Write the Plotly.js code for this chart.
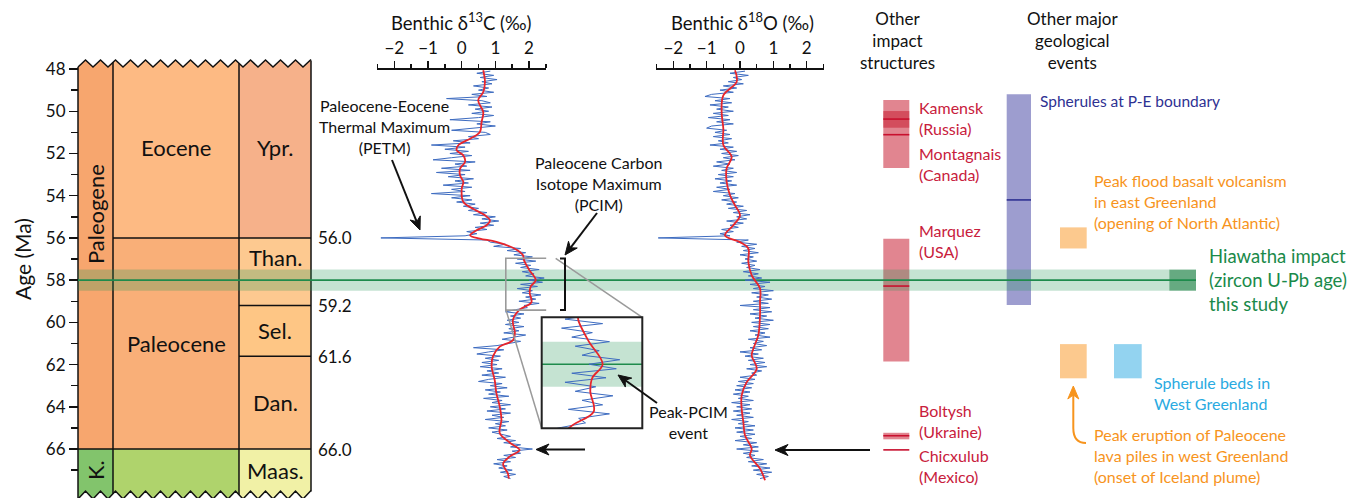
<!DOCTYPE html>
<html><head><meta charset="utf-8">
<script src="https://cdn.plot.ly/plotly-3.0.1.min.js"></script>
<style>html,body{margin:0;padding:0;background:#fff}#chart{width:1352px;height:498px}</style>
</head><body><div id="chart"></div>
<script>
// ---------------- DATA ----------------
const blueAges = [
48.1,48.2,48.3,48.4,48.5,48.6,48.7,48.8,48.9,49.0,
49.1,49.2,49.3,49.4,49.5,49.6,49.7,49.8,49.9,50.0,
50.1,50.2,50.3,50.4,50.5,50.6,50.7,50.8,50.9,51.0,
51.1,51.2,51.3,51.4,51.5,51.6,51.7,51.8,51.9,52.0,
52.1,52.2,52.3,52.4,52.5,52.6,52.7,52.8,52.9,53.0,
53.1,53.2,53.3,53.4,53.5,53.6,53.7,53.8,53.9,54.0,
54.1,54.2,54.3,54.4,54.5,54.6,54.7,54.8,54.9,55.0,
55.1,55.2,55.3,55.4,55.5,55.6,55.7,55.8,55.9,56.0,
56.1,56.2,56.3,56.4,56.5,56.6,56.7,56.8,56.9,57.0,
57.1,57.2,57.3,57.4,57.5,57.6,57.7,57.8,57.9,58.0,
58.1,58.2,58.3,58.4,58.5,58.6,58.7,58.8,58.9,59.0,
59.1,59.2,59.3,59.4,59.5,59.6,59.7,59.8,59.9,60.0,
60.1,60.2,60.3,60.4,60.5,60.6,60.7,60.8,60.9,61.0,
61.1,61.2,61.3,61.4,61.5,61.6,61.7,61.8,61.9,62.0,
62.1,62.2,62.3,62.4,62.5,62.6,62.7,62.8,62.9,63.0,
63.1,63.2,63.3,63.4,63.5,63.6,63.7,63.8,63.9,64.0,
64.1,64.2,64.3,64.4,64.5,64.6,64.7,64.8,64.9,65.0,
65.1,65.2,65.3,65.4,65.5,65.6,65.7,65.8,65.9,66.0,
66.1,66.2,66.3,66.4,66.5,66.6,66.7,66.8,66.9,67.0,
67.1,67.2,67.3,67.4];

const d13cBlue = [
0.85,0.45,0.95,0.55,1.05,0.6,0.9,0.35,0.8,0.5,
0.95,0.3,0.75,-0.45,0.6,0.85,0.2,0.9,0.4,0.8,
0.3,0.95,0.5,-0.35,0.85,0.45,1.0,0.3,-0.3,0.7,
0.85,0.2,0.5,-0.25,0.25,-0.9,0.1,-0.5,0.2,-0.35,
0.3,-0.3,-0.85,0.4,-0.2,0.15,-0.6,0.25,-0.75,0.1,
-0.4,0.35,-0.2,0.2,-0.55,0.3,-0.3,0.1,-0.9,0.25,
-0.3,0.3,-0.15,0.4,0.05,0.5,0.2,0.75,0.35,1.0,
0.6,1.1,0.55,0.95,0.4,0.75,0.15,0.45,0.1,-2.4,
0.75,0.85,1.3,0.95,1.75,1.35,1.9,1.55,2.1,1.65,
2.2,1.6,2.05,1.75,2.3,1.8,2.15,1.9,2.45,2.0,
2.4,1.75,2.25,1.65,2.1,1.8,2.35,1.9,2.2,1.7,
2.3,1.85,1.95,1.6,1.3,1.85,1.45,1.75,1.35,1.7,
1.3,1.85,1.4,1.7,1.25,1.9,1.5,1.2,1.75,1.4,
1.05,0.35,1.25,0.8,0.45,1.15,0.7,1.1,0.6,1.05,
0.55,1.2,0.75,1.1,0.6,1.3,0.8,0.5,1.2,0.85,
1.35,0.7,1.15,0.8,1.4,0.65,1.2,0.9,1.45,0.85,
1.3,0.75,1.45,0.9,1.25,0.7,1.4,1.0,1.3,0.8,
1.35,0.9,1.2,1.45,1.05,1.6,1.25,1.75,1.45,2.1,
1.5,1.75,1.25,1.6,1.05,1.45,0.95,1.35,1.1,1.5,
1.15,1.6,1.25,1.45];

const d18oBlue = [
0.15,-0.3,0.25,-0.2,0.05,-0.35,0.1,-0.5,-0.1,-0.6,
-0.2,-0.85,-1.05,-0.3,-0.75,-0.25,-0.9,-0.35,-0.7,-0.2,
-0.8,-0.35,-0.95,-0.3,-0.7,-0.2,-0.85,-1.0,-0.4,-0.75,
-0.3,-0.8,-0.25,-0.65,-0.35,-0.9,-0.2,-0.6,-0.1,-0.55,
-0.05,-0.5,-0.15,-0.7,-0.3,-0.8,-0.2,-0.55,-0.1,-0.65,
-0.2,-0.75,-0.25,-0.6,-0.1,-0.7,-0.3,-0.8,-0.15,-0.5,
-0.05,-0.55,-0.1,-0.4,0.1,-0.35,0.2,-0.2,0.3,-0.1,
0.2,-0.4,0.1,-0.3,-0.05,-0.55,-0.2,-0.6,-0.3,-2.45,
0.25,-0.1,0.5,0.05,0.45,0.1,0.55,0.0,0.4,0.15,
0.5,0.05,0.45,0.2,0.6,0.1,0.55,0.25,0.65,0.15,
0.9,0.3,0.75,0.4,1.0,0.35,0.85,0.5,0.95,0.4,
0.85,0.0,0.9,0.4,0.95,0.3,0.8,0.45,1.0,0.35,
0.9,0.4,0.85,0.3,0.75,0.45,0.9,0.25,0.7,0.4,
0.8,0.3,0.65,0.0,0.55,0.15,0.7,0.25,0.75,0.3,
0.8,0.2,0.65,0.35,0.5,0.0,0.45,-0.05,0.4,-0.1,
0.35,-0.15,0.3,-0.2,0.25,-0.05,0.4,-0.25,0.3,-0.1,
0.35,-0.2,0.3,-0.1,0.4,-0.25,0.25,-0.05,0.45,-0.15,
0.4,-0.1,0.45,0.0,0.35,-0.15,0.5,0.1,0.55,-0.1,
0.55,0.1,0.45,0.2,0.7,0.25,0.8,0.35,0.9,0.4,
0.95,0.5,0.85,0.6];

const d13cRedAge = [48.06,48.61,49.09,49.48,50.04,50.51,50.98,51.3,51.61,51.85,
52.09,52.4,52.72,53.03,53.35,53.67,54.3,54.62,54.93,55.17,
55.4,55.64,55.88,56.03,56.19,56.51,56.82,57.05,57.5,58.0,
58.3,58.6,59.05,59.4,59.9,60.5,60.85,61.15,61.6,62.1,
62.73,63.35,63.99,64.62,65.24,65.7,66.05,66.35,66.7,67.15,67.4];
const d13cRed = [0.64,0.69,0.64,0.49,0.64,0.59,0.54,0.25,-0.1,-0.15,
0.05,0.1,-0.05,-0.05,0.05,0.0,0.05,0.34,0.69,0.84,
0.74,0.44,0.25,0.54,1.03,1.58,1.82,1.85,2.0,2.2,
2.05,2.02,2.07,1.72,1.52,1.58,1.52,1.13,0.93,0.89,
0.98,1.03,1.13,1.18,1.13,1.43,1.72,1.43,1.23,1.37,1.4];

const d18oRedAge = [48.06,48.6,49.25,50.04,50.83,51.6,52.17,52.7,53.35,53.98,
54.46,54.93,55.4,55.88,56.2,56.5,57.14,57.77,58.4,59.03,
59.67,60.6,61.25,61.57,62.2,62.83,63.46,64.1,64.72,65.35,
65.99,66.3,66.93,67.48];
const d18oRed = [-0.15,-0.1,-0.5,-0.55,-0.5,-0.5,-0.25,-0.4,-0.4,-0.3,
-0.15,0.0,-0.2,-0.45,0.0,0.25,0.25,0.35,0.6,0.6,
0.6,0.55,0.4,0.35,0.5,0.2,0.05,0.05,0.1,0.15,
0.35,0.3,0.6,0.75];

// Geological time scale
const periodNames = ['Paleogene','K.'];
const periodTop = [47.3, 66.0], periodBot = [66.0, 68.6];
const epochNames = ['Eocene','Paleocene',''];
const epochTop = [47.3, 56.0, 66.0], epochBot = [56.0, 66.0, 68.6];
const stageNames = ['Ypr.','Than.','Sel.','Dan.','Maas.'];
const stageTop = [47.3, 56.0, 59.2, 61.6, 66.0], stageBot = [56.0, 59.2, 61.6, 66.0, 68.6];
const boundaryLabels = ['56.0','59.2','61.6','66.0'];
const boundaryAges = [56.0, 59.2, 61.6, 66.0];

// Other impact structures
const impactNames = ['Kamensk','Montagnais','Marquez','Boltysh','Chicxulub'];
const impactLo = [49.99, 49.47, 56.04, 65.23, null];
const impactHi = [50.78, 52.69, 61.85, 65.54, null];
const impactAge = [50.37, 51.11, 58.28, 65.37, 66.04];

// Other geological events
const spherulePE = [49.2, 59.18], spherulePEage = 54.2;
const floodBasalt = [55.5, 56.5];
const lavaPiles = [61.03, 62.65];
const spheruleBeds = [61.03, 62.65];
const hiawatha = [57.5, 58.5], hiawathaAge = 58.0;

// Inset (zoom window on the δ13C record)
const insetAge = [56.96, 59.42], insetD13C = [1.31, 2.78];

// ---------------- LAYOUT HELPERS ----------------
const W = 1352, H = 498;
const Y0 = 44.73, PPM = 21.111;
const A = py => Y0 + py / PPM;          // pixel row -> age
const P = px => px / W, Q = py => 1 - py / H;
const FONT = 'Lato, "Open Sans", sans-serif';
const BLUE = 'rgb(62,108,192)', RED = '#E8252B';
const CRIM = '#C8203C', NAVY = '#2E3192', ORANGE = '#F7941D', LBLUE = '#29AAE1', GREEN = '#1A8A4A';
const BAND = 'rgba(40,150,90,0.27)';

const shapes = [], ann = [];
function rect(x0,x1,y0,y1,fill,layer){shapes.push({type:'rect',xref:'x',yref:'y',x0,x1,y0,y1,fillcolor:fill,line:{width:0},layer:layer||'below'});}
function hline(x0,x1,y,color,w,layer){shapes.push({type:'line',xref:'x',yref:'y',x0,x1,y0:y,y1:y,line:{color,width:w},layer:layer||'below'});}
function txt(x,y,text,size,color,anchor,angle){ann.push({xref:'paper',yref:'paper',x:P(x),y:Q(y),text,showarrow:false,xanchor:anchor||'center',yanchor:'middle',align:anchor||'center',textangle:angle||0,font:{family:FONT,size,color:color||'#111'}});}
// arrow drawn as shapes: shaft + notched head (pixel geometry -> paper)
function arrow(hx,hy,tx,ty,color,noShaft){
  color = color || '#111';
  const dx=hx-tx, dy=hy-ty, len=Math.hypot(dx,dy), ux=dx/len, uy=dy/len, nx=-uy, ny=ux;
  const L=13, hw=5.5, notch=9;
  const bx=hx-ux*L, by=hy-uy*L, mx=hx-ux*notch, my=hy-uy*notch;
  if(!noShaft) shapes.push({type:'line',xref:'paper',yref:'paper',x0:P(tx),y0:Q(ty),x1:P(mx),y1:Q(my),line:{color,width:2},layer:'above'});
  const pts=[[hx,hy],[bx+nx*hw,by+ny*hw],[mx,my],[bx-nx*hw,by-ny*hw]];
  shapes.push({type:'path',xref:'paper',yref:'paper',path:'M '+pts.map(p=>`${P(p[0])},${Q(p[1])}`).join(' L ')+' Z',fillcolor:color,line:{color,width:1},layer:'above'});
}

// time-scale columns
const C1=[78,113], C2=[113,239], C3=[239,311];
const periodColors = ['#F7A66E','#82C46C'];
const epochColors = ['#FDBA83','#F9AF78','#AFD36C'];
const stageColors = ['#F6B18A','#FDC990','#FEC685','#FCBD83','#F1F1A6'];
periodNames.forEach((n,i)=>rect(C1[0],C1[1],periodTop[i],periodBot[i],periodColors[i]));
epochNames.forEach((n,i)=>rect(C2[0],C2[1],epochTop[i],epochBot[i],epochColors[i]));
stageNames.forEach((n,i)=>rect(C3[0],C3[1],stageTop[i],stageBot[i],stageColors[i]));

// zigzag torn edges
function tri(u){u=u-Math.floor(u);return 1-Math.abs(2*u-1);}
const zt = x => 67 - 7*tri((x-78)/15);
const zb = x => 499 - 8*tri((x-78)/15);
const zx = []; for(let k=0;78+7.5*k<=311;k++) zx.push(78+7.5*k); zx.push(311);
let topPoly = `M 77,${A(0)} L 312,${A(0)} L 312,${A(zt(311))}`;
for(let i=zx.length-1;i>=0;i--) topPoly += ` L ${zx[i]},${A(zt(zx[i]))}`;
topPoly += ` L 77,${A(zt(78))} Z`;
let botPoly = `M 77,${A(H+6)} L 312,${A(H+6)} L 312,${A(zb(311))}`;
for(let i=zx.length-1;i>=0;i--) botPoly += ` L ${zx[i]},${A(zb(zx[i]))}`;
botPoly += ` L 77,${A(zb(78))} Z`;
shapes.push({type:'path',xref:'x',yref:'y',path:topPoly,fillcolor:'#fff',line:{width:0},layer:'below'});
shapes.push({type:'path',xref:'x',yref:'y',path:botPoly,fillcolor:'#fff',line:{width:0},layer:'below'});
let topLine = 'M ' + zx.map(x=>`${x},${A(zt(x))}`).join(' L ');
let botLine = 'M ' + zx.map(x=>`${x},${A(zb(x))}`).join(' L ');
shapes.push({type:'path',xref:'x',yref:'y',path:topLine,line:{color:'#111',width:1.5},layer:'below'});
shapes.push({type:'path',xref:'x',yref:'y',path:botLine,line:{color:'#111',width:1.5},layer:'below'});
[78,113,239,311].forEach(x=>shapes.push({type:'line',xref:'x',yref:'y',x0:x,x1:x,y0:A(zt(x)),y1:A(zb(x)),line:{color:'#111',width:1.5},layer:'below'}));
hline(C2[0],C3[1],boundaryAges[0],'#111',1.5);
hline(C3[0],C3[1],boundaryAges[1],'#111',1.5);
hline(C3[0],C3[1],boundaryAges[2],'#111',1.5);
hline(C1[0],C3[1],boundaryAges[3],'#111',1.5);

// impact structure bars
const IMPX=[883.3,909.3];
impactNames.forEach((n,i)=>{ if(impactLo[i]!==null) rect(IMPX[0],IMPX[1],impactLo[i],impactHi[i],'rgba(200,30,50,0.54)'); });
// other events
rect(1006.7,1031,spherulePE[0],spherulePE[1],'rgba(60,60,160,0.5)');
rect(1060,1086.7,floodBasalt[0],floodBasalt[1],'#FCC98E');
rect(1060,1086.7,lavaPiles[0],lavaPiles[1],'#FCC98E');
rect(1114,1141.7,spheruleBeds[0],spheruleBeds[1],'#93D3F0');

// Hiawatha band
rect(78,1169.3,hiawatha[0],hiawatha[1],BAND);
rect(1169.3,1196,hiawatha[0],hiawatha[1],'rgba(30,130,70,0.68)');
hline(78,1196,hiawathaAge,'#1E8B4C',1.6);

// above-layer lines
impactNames.forEach((n,i)=>hline(IMPX[0],IMPX[1],impactAge[i],'#C8102E',1.6,'above'));
hline(1006.7,1031,spherulePEage,NAVY,1.6,'above');

// inset band and line (inset subplot)
shapes.push({type:'rect',xref:'x4',yref:'y2',x0:insetD13C[0],x1:insetD13C[1],y0:hiawatha[0],y1:hiawatha[1],fillcolor:BAND,line:{width:0},layer:'below'});
shapes.push({type:'line',xref:'x4',yref:'y2',x0:insetD13C[0],x1:insetD13C[1],y0:hiawathaAge,y1:hiawathaAge,line:{color:'#1E8B4C',width:1.6},layer:'below'});
// zoom window box on main δ13C record
shapes.push({type:'rect',xref:'x2',yref:'y',x0:insetD13C[0],x1:insetD13C[1],y0:insetAge[0],y1:insetAge[1],line:{color:'#9a9a9a',width:1.6},layer:'above'});
const IN = {x0:541.7,x1:642.3,y0:317.3,y1:428.3};
shapes.push({type:'line',xref:'paper',yref:'paper',x0:P(555.7),y0:Q(258.3),x1:P(IN.x1),y1:Q(IN.y0),line:{color:'#9a9a9a',width:1.5},layer:'above'});
shapes.push({type:'line',xref:'paper',yref:'paper',x0:P(506),y0:Q(310),x1:P(IN.x0),y1:Q(IN.y1),line:{color:'#9a9a9a',width:1.5},layer:'above'});
shapes.push({type:'rect',xref:'paper',yref:'paper',x0:P(IN.x0),x1:P(IN.x1),y0:Q(IN.y1),y1:Q(IN.y0),line:{color:'#222',width:2},layer:'above'});
// PCIM bracket
shapes.push({type:'path',xref:'paper',yref:'paper',path:`M ${P(560)},${Q(258.5)} L ${P(565)},${Q(258.5)} L ${P(565)},${Q(310)} L ${P(560)},${Q(310)}`,line:{color:'#111',width:2},layer:'above'});
// orange curved arrow shaft
shapes.push({type:'path',xref:'paper',yref:'paper',path:`M ${P(1086)},${Q(443)} C ${P(1077)},${Q(443)} ${P(1073.3)},${Q(438)} ${P(1073.3)},${Q(428)} L ${P(1073.3)},${Q(394)}`,line:{color:ORANGE,width:2},layer:'above'});

// ---------------- TEXT ----------------
txt(22,259,'Age (Ma)',21,'#111','center',-90);
txt(95,214,periodNames[0],22,'#111','center',-90);
txt(95,470,periodNames[1],22,'#111','center',-90);
txt(176,148,epochNames[0],22);
txt(176,343,epochNames[1],22);
const stageLabelY = [148,257,330,402,470];
stageNames.forEach((n,i)=>txt(275,stageLabelY[i],n,22));
boundaryLabels.forEach((t,i)=>ann.push({xref:'x',yref:'y',x:316,y:boundaryAges[i],text:t,showarrow:false,xanchor:'left',yanchor:'middle',font:{family:FONT,size:17,color:'#111'}}));

txt(461,22,'Benthic δ<sup>13</sup>C (‰)',18.5);
txt(742,22,'Benthic δ<sup>18</sup>O (‰)',18.5);
txt(897,40,'Other<br>impact<br>structures',17);
txt(1072,40,'Other major<br>geological<br>events',17);

txt(384,126,'Paleocene-Eocene<br>Thermal Maximum<br>(PETM)',16);
txt(598,183,'Paleocene Carbon<br>Isotope Maximum<br>(PCIM)',16);
txt(688,422,'Peak-PCIM<br>event',16);

const impactLabelLines = [['Kamensk<br>(Russia)',118],['Montagnais<br>(Canada)',164],['Marquez<br>(USA)',241],['Boltysh<br>(Ukraine)',421],['Chicxulub<br>(Mexico)',466]];
impactLabelLines.forEach(l=>txt(917,l[1],l[0],16,CRIM,'left'));

txt(1038,101,'Spherules at P-E boundary',15.5,NAVY,'left');
txt(1092,202,'Peak flood basalt volcanism<br>in east Greenland<br>(opening of North Atlantic)',16,ORANGE,'left');
txt(1207,280,'Hiawatha impact<br>(zircon U-Pb age)<br>this study',18.5,GREEN,'left');
txt(1152,393,'Spherule beds in<br>West Greenland',16,LBLUE,'left');
txt(1092,455,'Peak eruption of Paleocene<br>lava piles in west Greenland<br>(onset of Iceland plume)',16,ORANGE,'left');

// arrows
arrow(420,230,392,160);
arrow(565,255,597,213);
arrow(618,375,657,403);
arrow(536,449.5,585,449.5);
arrow(775,450,870,450);
arrow(1073.3,386,1073.3,402,ORANGE,true);

// ---------------- TRACES ----------------
const blueLine = {color:BLUE,width:1};
const redLine = {color:RED,width:1.8,shape:'spline',smoothing:1};
const traces = [
 {type:'scatter',mode:'markers',x:[0],y:[50],xaxis:'x',yaxis:'y',marker:{opacity:0},hoverinfo:'skip',showlegend:false},
 {type:'scatter',mode:'lines',x:d13cBlue,y:blueAges,xaxis:'x2',yaxis:'y',line:blueLine,hoverinfo:'skip'},
 {type:'scatter',mode:'lines',x:d13cRed,y:d13cRedAge,xaxis:'x2',yaxis:'y',line:redLine,hoverinfo:'skip'},
 {type:'scatter',mode:'lines',x:d18oBlue,y:blueAges,xaxis:'x3',yaxis:'y',line:blueLine,hoverinfo:'skip'},
 {type:'scatter',mode:'lines',x:d18oRed,y:d18oRedAge,xaxis:'x3',yaxis:'y',line:redLine,hoverinfo:'skip'},
 {type:'scatter',mode:'lines',x:d13cBlue,y:blueAges,xaxis:'x4',yaxis:'y2',line:blueLine,hoverinfo:'skip'},
 {type:'scatter',mode:'lines',x:d13cRed,y:d13cRedAge,xaxis:'x4',yaxis:'y2',line:redLine,hoverinfo:'skip'}
];

const isoAxis = (d0,d1) => ({domain:[d0/W,d1/W],range:[-2.51,2.51],anchor:'free',position:Q(68),side:'top',
  showline:true,linecolor:'#111',linewidth:1.5,ticks:'outside',ticklen:7,tickwidth:1.5,tickcolor:'#111',
  tickmode:'array',tickvals:[-2,-1,0,1,2],showgrid:false,zeroline:false,fixedrange:true,
  tickfont:{family:FONT,size:17,color:'#111'},
  minor:{tickmode:'array',tickvals:[-2.5,-1.5,-0.5,0.5,1.5,2.5],ticks:'outside',ticklen:4,tickwidth:1.5,tickcolor:'#111',showgrid:false}});

const layout = {
  width:W,height:H,margin:{l:0,r:0,t:0,b:0,pad:0},
  paper_bgcolor:'#fff',plot_bgcolor:'rgba(0,0,0,0)',showlegend:false,
  font:{family:FONT,color:'#111'},
  xaxis:{domain:[0,1],range:[0,W],visible:false,fixedrange:true},
  yaxis:{domain:[0,1],range:[A(H),A(0)],anchor:'free',position:78/W,showline:false,showgrid:false,zeroline:false,
    ticks:'outside',ticklen:9,tickwidth:1.5,tickcolor:'#111',tickmode:'array',
    tickvals:[48,50,52,54,56,58,60,62,64,66],tickfont:{family:FONT,size:17,color:'#111'},fixedrange:true,
    minor:{tickmode:'array',tickvals:[49,51,53,55,57,59,61,63,65,67],ticks:'outside',ticklen:7,tickwidth:1.5,tickcolor:'#111',showgrid:false}},
  xaxis2:isoAxis(377.2,546.2),
  xaxis3:isoAxis(656.25,823.75),
  xaxis4:{domain:[IN.x0/W,IN.x1/W],range:insetD13C,anchor:'y2',visible:false,fixedrange:true},
  yaxis2:{domain:[Q(IN.y1),Q(IN.y0)],range:[insetAge[1],insetAge[0]],anchor:'x4',visible:false,fixedrange:true},
  shapes:shapes,annotations:ann
};
Plotly.newPlot('chart',traces,layout,{staticPlot:true,displayModeBar:false});
</script></body></html>
